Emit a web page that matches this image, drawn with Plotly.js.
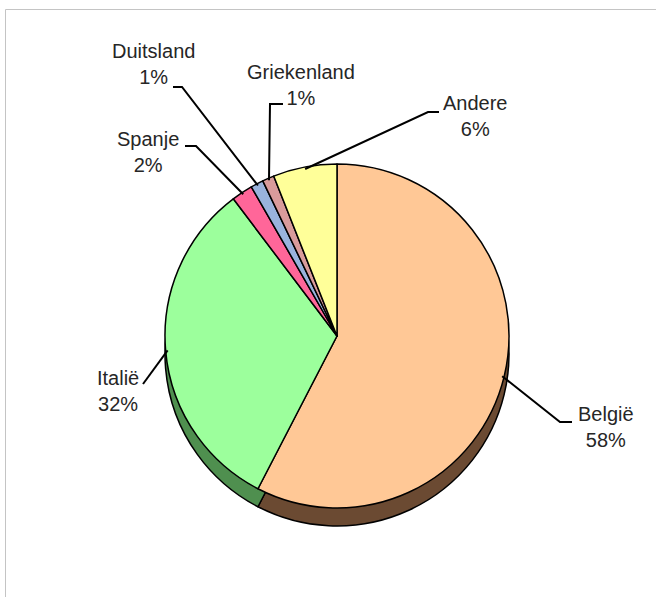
<!DOCTYPE html>
<html>
<head>
<meta charset="utf-8">
<script src="https://cdn.plot.ly/plotly-3.0.1.min.js"></script>
<style>html,body{margin:0;padding:0;background:#fff;}#chart{width:656px;height:597px;}</style>
</head>
<body>
<div id="chart"></div>
<script>
// Data
var labels = ["België", "Italië", "Spanje", "Duitsland", "Griekenland", "Andere"];
var values = [57.6, 32.1, 2.0, 1.2, 1.1, 6.0];
var topColors = ["#FFC896", "#9CFF9C", "#FF6699", "#99B3DD", "#D99B9B", "#FFFF99"];
var sideColors = ["#6B4A32", "#4F8F4F", "#99335A", "#5A6F8F", "#8A5A5A", "#999944"];
// label block centres (pixels)
var labelPos = [[606, 427], [118, 391], [148, 152], [153, 64], [301, 85], [475, 116]];
// leader line jog: [start x, start y, end x, end y] (pixels)
var leaderJog = [[572, 422, 560, 422], [143, 384, 143, 384], [185, 146, 196, 146],
                 [173, 87, 182, 87], [283, 104, 270, 104], [439, 112, 428, 112]];

var W = 656, H = 597;
var cx = 337, cy = 336, R = 172, depth = 18;

function domainFor(cxp, cyp) {
  return {
    x: [(cxp - R) / W, (cxp + R) / W],
    y: [1 - (cyp + R) / H, 1 - (cyp - R) / H]
  };
}
function px(x) { return x / W; }
function py(y) { return 1 - y / H; }

var sideTrace = {
  type: "pie", labels: labels, values: values, sort: false,
  direction: "clockwise", rotation: 0, textinfo: "none", hoverinfo: "none",
  marker: {colors: sideColors, line: {color: "#000", width: 1.5}},
  domain: domainFor(cx, cy + depth), showlegend: false
};
var topTrace = {
  type: "pie", labels: labels, values: values, sort: false,
  direction: "clockwise", rotation: 0, textinfo: "none", hoverinfo: "label+percent",
  marker: {colors: topColors, line: {color: "#000", width: 1.5}},
  domain: domainFor(cx, cy), showlegend: false
};

var total = values.reduce(function (a, b) { return a + b; }, 0);
var cum = 0;
var annotations = [];
var shapes = [{
  type: "rect", xref: "paper", yref: "paper",
  x0: 5.5 / W, x1: 1.05, y0: -0.05, y1: 1 - 9.5 / H,
  line: {color: "#c4c4c4", width: 1}
}];
for (var i = 0; i < values.length; i++) {
  var mid = (cum + values[i] / 2) / total * 2 * Math.PI;
  cum += values[i];
  var tx = cx + (R - 2) * Math.sin(mid);
  var ty = cy - (R - 2) * Math.cos(mid);
  var j = leaderJog[i];
  shapes.push({
    type: "path", xref: "paper", yref: "paper",
    path: "M" + px(j[0]) + "," + py(j[1]) + " L" + px(j[2]) + "," + py(j[3]) +
          " L" + px(tx) + "," + py(ty),
    line: {color: "#000", width: 2}
  });
  annotations.push({
    x: px(labelPos[i][0]), y: py(labelPos[i][1]), xref: "paper", yref: "paper",
    xanchor: "center", yanchor: "middle",
    text: labels[i] + "<br>" + Math.round(values[i] / total * 100) + "%",
    showarrow: false,
    font: {family: "Liberation Sans, Arial, sans-serif", size: 20, color: "#262626"},
    align: "center"
  });
}

var layout = {
  width: W, height: H,
  margin: {l: 0, r: 0, t: 0, b: 0},
  paper_bgcolor: "#fff",
  annotations: annotations,
  shapes: shapes
};

Plotly.newPlot("chart", [sideTrace, topTrace], layout, {displayModeBar: false, staticPlot: true});
</script>
</body>
</html>
